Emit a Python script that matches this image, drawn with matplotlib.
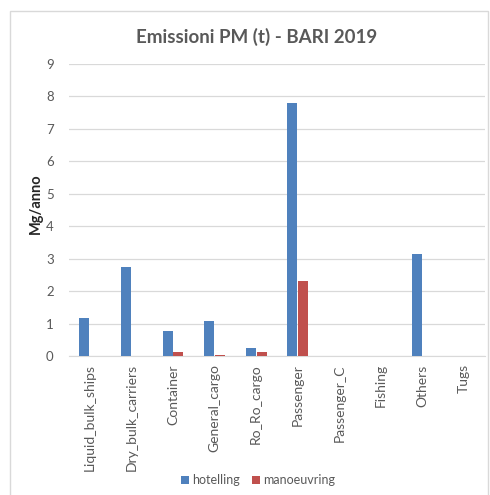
import numpy as np
import matplotlib
matplotlib.use("Agg")
from matplotlib import pyplot as plt
from matplotlib.patches import Rectangle

# Emissioni PM per tipologia di nave - porto di Bari, 2019
categories = ["Liquid_bulk_ships", "Dry_bulk_carriers", "Container", "General_cargo",
              "Ro_Ro_cargo", "Passenger", "Passenger_C", "Fishing", "Others", "Tugs"]
hotelling = [1.17, 2.73, 0.77, 1.08, 0.26, 7.80, 0.0, 0.0, 3.15, 0.0]
manoeuvring = [0.0, 0.0, 0.13, 0.03, 0.11, 2.30, 0.0, 0.0, 0.0, 0.0]
series_names = ["hotelling", "manoeuvring"]
y_ticks = list(range(0, 10))

BLUE = "#4F81BD"
RED = "#C0504D"
TEXT_GRAY = "#595959"
GRID_GRAY = "#D9D9D9"

plt.rcParams["font.family"] = ["Lato", "DejaVu Sans"]

fig = plt.figure(figsize=(4.9, 4.95), dpi=100)
# chart border
fig.patches.append(Rectangle((10 / 490, -0.01), 478 / 490, 1 - 11 / 495 + 0.01,
                             transform=fig.transFigure, fill=False,
                             edgecolor="#D9D9D9", linewidth=1.0))

ax = fig.add_axes([69 / 490, 1 - 356 / 495, 416 / 490, 292 / 495])

x = np.arange(len(categories))
width = 0.24
ax.bar(x - 0.13, hotelling, width, color=BLUE, label=series_names[0], zorder=3)
ax.bar(x + 0.13, manoeuvring, width, color=RED, label=series_names[1], zorder=3)

ax.set_xlim(-0.5, len(categories) - 0.5)
ax.set_ylim(0, 9)
ax.set_yticks(y_ticks)
ax.set_xticks(x)
ax.set_xticklabels(categories, rotation=90, fontsize=10, color=TEXT_GRAY)
ax.tick_params(axis="y", labelsize=9.5, labelcolor=TEXT_GRAY, length=0, pad=11)
ax.tick_params(axis="x", length=0, pad=6)
ax.grid(axis="y", color=GRID_GRAY, linewidth=0.9, zorder=0)

for side in ["top", "right", "left"]:
    ax.spines[side].set_visible(False)
ax.spines["bottom"].set_color(GRID_GRAY)

ax.set_ylabel("Mg/anno", fontsize=10.5, fontweight="bold", color="#262626")
ax.yaxis.set_label_coords(-0.064, 0.52)

fig.text(257 / 490, 1 - 37 / 495, "Emissioni PM (t) - BARI 2019", ha="center", va="center",
         fontsize=13.5, fontweight="bold", color=TEXT_GRAY)

fig.legend(loc="center", bbox_to_anchor=(258 / 490, 1 - 480 / 495), ncol=2, frameon=False,
           fontsize=9, handlelength=0.6, handleheight=0.6, handletextpad=0.25,
           columnspacing=1.0, labelcolor=TEXT_GRAY)

fig.savefig("out.png", dpi=100)
